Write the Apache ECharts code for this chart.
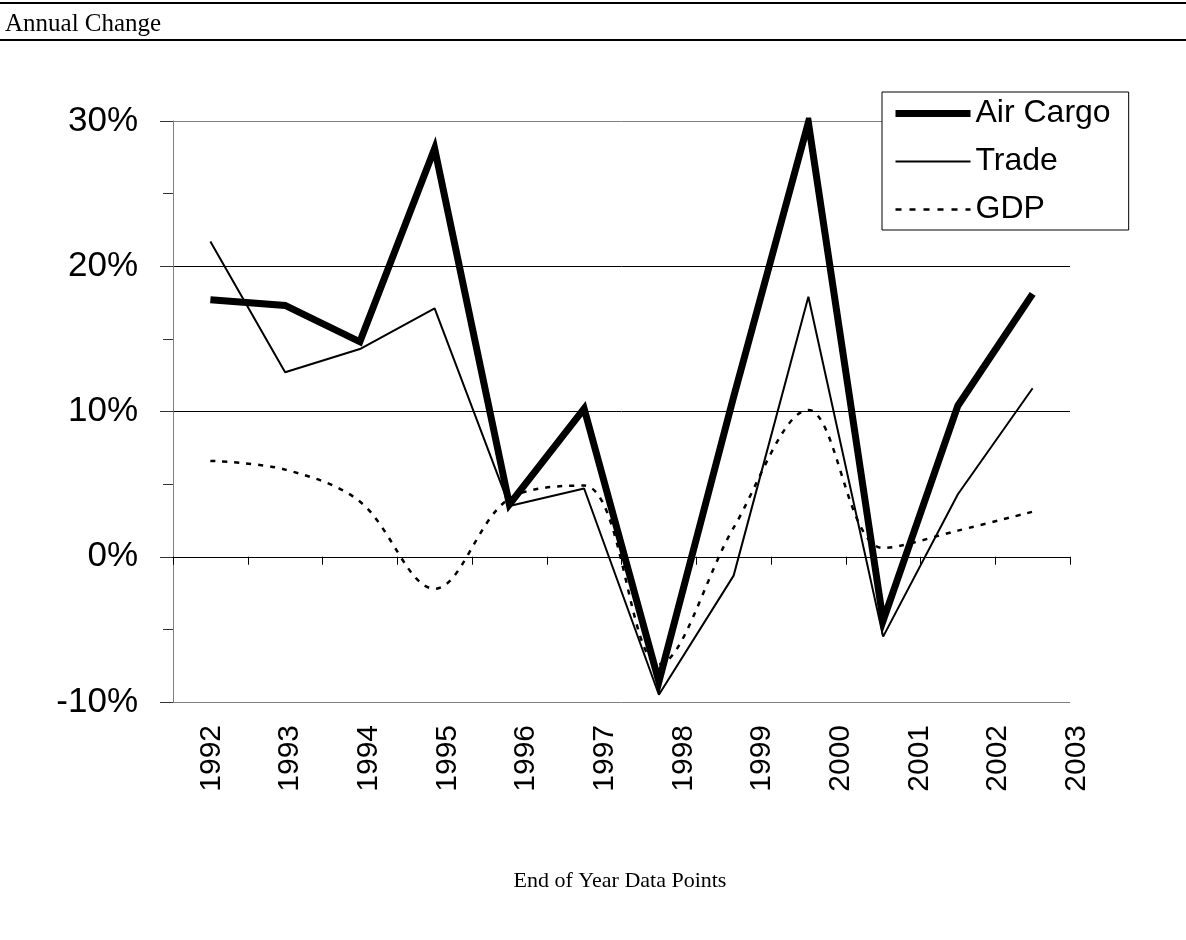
<!DOCTYPE html>
<html>
<head>
<meta charset="utf-8">
<script src="https://cdn.jsdelivr.net/npm/echarts@6/dist/echarts.min.js"></script>
<style>
  html, body { margin: 0; padding: 0; background: #fff; }
  #chart { width: 1186px; height: 940px; }
</style>
</head>
<body>
<div id="chart"></div>
<script>
// ---- data ----
const years = ['1992','1993','1994','1995','1996','1997','1998','1999','2000','2001','2002','2003'];
const airCargo = [17.7, 17.3, 14.8, 28.1, 3.6, 10.2, -8.6, 11.0, 29.9, -4.4, 10.4, 18.1];
const trade    = [21.7, 12.7, 14.3, 17.1, 3.5, 4.7, -9.5, -1.3, 17.9, -5.5, 4.3, 11.6];
const gdp      = [6.6, 6.0, 3.8, -2.2, 4.0, 4.9, -7.4, 2.0, 10.1, 0.6, 1.8, 3.1];
const yTicks = { min: -10, max: 30, interval: 10 };

const chart = echarts.init(document.getElementById('chart'), null, { renderer: 'canvas' });

const sans = 'Liberation Sans, Arial, sans-serif';
const serif = 'Liberation Serif, Times New Roman, serif';

chart.setOption({
  backgroundColor: '#fff',
  animation: false,
  grid: [
    { left: 173, top: 121, width: 897, height: 581, containLabel: false },
    { left: 172, top: 121, width: 944, height: 581, containLabel: false }
  ],
  legend: {
    orient: 'vertical',
    left: 882,
    top: 92,
    data: [
      { name: 'Air Cargo', lineStyle: { width: 7, color: '#000', type: 'solid' } },
      { name: 'Trade', lineStyle: { width: 2, color: '#000', type: 'solid' } },
      { name: 'GDP', lineStyle: { width: 2.5, color: '#000', type: [6, 8] } }
    ],
    itemWidth: 75,
    itemHeight: 10,
    itemGap: 15,
    padding: [5, 18, 4, 10],
    borderColor: '#000',
    borderWidth: 1,
    backgroundColor: '#fff',
    itemStyle: { opacity: 0 },
    textStyle: { fontFamily: sans, fontSize: 32, color: '#000', lineHeight: 33 }
  },
  xAxis: [
    {
      type: 'category',
      gridIndex: 0,
      data: years,
      boundaryGap: true,
      axisLine: { onZero: true, lineStyle: { color: '#000', width: 1 } },
      axisTick: { show: true, length: 8, interval: 0, lineStyle: { color: '#000' } },
      axisLabel: { show: false },
      splitLine: { show: false }
    },
    {
      type: 'category',
      gridIndex: 1,
      data: years,
      boundaryGap: true,
      axisLine: { show: false, onZero: false },
      axisTick: { show: false },
      axisLabel: { show: true, interval: 0, rotate: 90, margin: 23, fontFamily: sans, fontSize: 30, color: '#000' },
      splitLine: { show: false }
    }
  ],
  yAxis: [
    {
      type: 'value',
      gridIndex: 0,
      min: yTicks.min,
      max: yTicks.max,
      interval: yTicks.interval,
      axisLine: { show: true, lineStyle: { color: '#808080', width: 1 } },
      axisTick: { show: true, length: 13, lineStyle: { color: '#333' } },
      minorTick: { show: true, splitNumber: 2, length: 10, lineStyle: { color: '#333' } },
      axisLabel: { margin: 35, fontFamily: sans, fontSize: 35, color: '#000', formatter: v => v + '%' },
      splitLine: { show: true, lineStyle: { color: ['#808080', '#000', '#000', '#000', '#808080'], width: 1 } }
    },
    {
      type: 'value',
      gridIndex: 1,
      show: false,
      min: 0, max: 1
    }
  ],
  graphic: [
    { type: 'line', shape: { x1: 0, y1: 3, x2: 1186, y2: 3 }, style: { stroke: '#000', lineWidth: 2 } },
    { type: 'line', shape: { x1: 0, y1: 40, x2: 1186, y2: 40 }, style: { stroke: '#000', lineWidth: 2 } },
    { type: 'text', left: 5, top: 12, style: { text: 'Annual Change', font: '25px ' + serif, fill: '#000' } },
    { type: 'text', x: 620, y: 870, style: { text: 'End of Year Data Points', font: '22px ' + serif, fill: '#000', textAlign: 'center' } }
  ],
  series: [
    {
      name: 'Air Cargo', type: 'line', xAxisIndex: 0, yAxisIndex: 0,
      data: airCargo, symbol: 'none', z: 4,
      lineStyle: { color: '#000', width: 7, join: 'miter' },
      itemStyle: { color: '#000' }
    },
    {
      name: 'Trade', type: 'line', xAxisIndex: 0, yAxisIndex: 0,
      data: trade, symbol: 'none', z: 3,
      lineStyle: { color: '#000', width: 2 },
      itemStyle: { color: '#000' }
    },
    {
      name: 'GDP', type: 'line', xAxisIndex: 0, yAxisIndex: 0,
      data: gdp, symbol: 'none', smooth: 0.35, z: 2,
      lineStyle: { color: '#000', width: 2.5, type: [5, 7] },
      itemStyle: { color: '#000' }
    }
  ]
});
</script>
</body>
</html>
